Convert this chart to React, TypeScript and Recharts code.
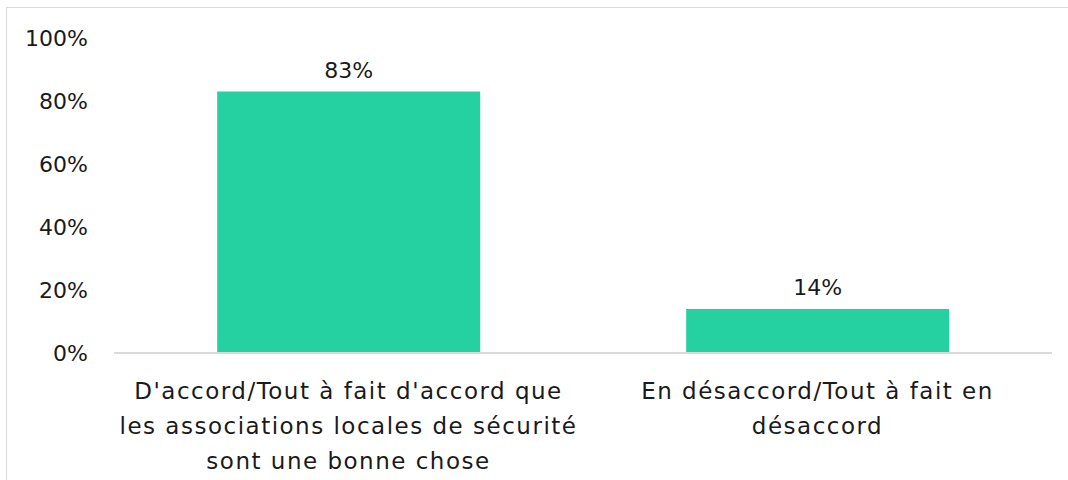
import React from "react";
import { BarChart, Bar, XAxis, YAxis, LabelList } from "recharts";

// categories (line breaks as in the original axis labels)
const categories = [
  "D'accord/Tout à fait d'accord que\nles associations locales de sécurité\nsont une bonne chose",
  "En désaccord/Tout à fait en\ndésaccord",
];
const values = [83, 14];
const yTicks = [0, 20, 40, 60, 80, 100];

const data = categories.map((c, i) => ({ name: c, value: values[i] }));

const FONT = "'DejaVu Sans', sans-serif";
const TEXT = "#1a1a1a";

function CategoryTick(props: any) {
  const { x, y, payload } = props;
  const lines = String(payload.value).split("\n");
  return (
    <text
      x={x}
      y={y}
      textAnchor="middle"
      fill={TEXT}
      fontSize={23}
      letterSpacing={1.5}
      fontFamily={FONT}
    >
      {lines.map((l, i) => (
        <tspan key={i} x={x} dy={i === 0 ? 46 : 35}>
          {l}
        </tspan>
      ))}
    </text>
  );
}

export default function App() {
  return (
    <div
      style={{
        position: "absolute",
        left: 0,
        top: 0,
        width: 1068,
        height: 480,
        overflow: "hidden",
        background: "#fff",
      }}
    >
      <div
        style={{
          position: "absolute",
          left: 6,
          top: 7,
          width: 1100,
          height: 520,
          border: "1.5px solid #d9d9d9",
        }}
      />
      <div style={{ position: "absolute", left: 0, top: 0 }}>
        <BarChart
          width={1068}
          height={480}
          data={data}
          margin={{ top: 38, right: 16, bottom: 0, left: 0 }}
          barCategoryGap="22%"
        >
          <YAxis
            domain={[0, 100]}
            ticks={yTicks}
            interval={0}
            width={114}
            axisLine={false}
            tickLine={false}
            tickSize={0}
            tickMargin={26}
            tickFormatter={(v) => `${v}%`}
            tick={{ fill: TEXT, fontSize: 22, fontFamily: FONT }}
          />
          <XAxis
            dataKey="name"
            height={127}
            interval={0}
            tickLine={false}
            tickSize={0}
            tickMargin={0}
            axisLine={{ stroke: "#d9d9d9", strokeWidth: 2 }}
            tick={<CategoryTick />}
          />
          <Bar dataKey="value" fill="#25D1A1" isAnimationActive={false}>
            <LabelList
              dataKey="value"
              position="top"
              offset={14}
              formatter={(v: any) => `${v}%`}
              style={{ fill: TEXT, fontSize: 22, fontFamily: FONT }}
            />
          </Bar>
        </BarChart>
      </div>
    </div>
  );
}
